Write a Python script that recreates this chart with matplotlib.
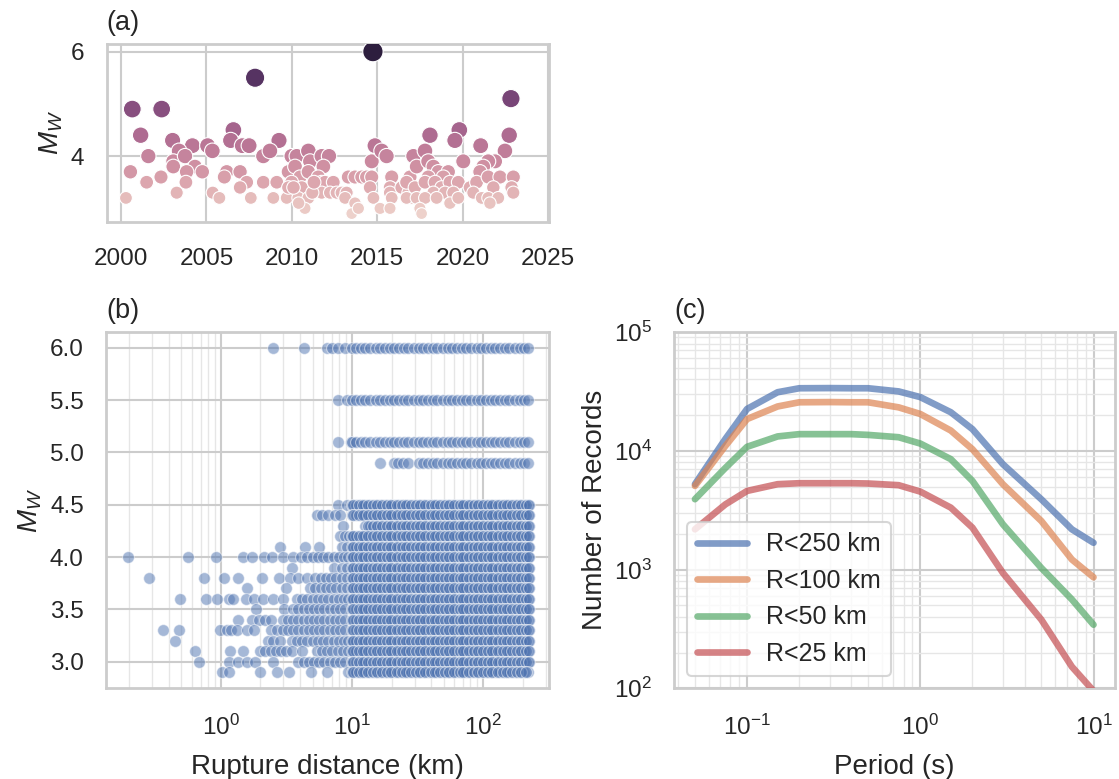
import numpy as np
import matplotlib
matplotlib.use("Agg")
import matplotlib.pyplot as plt
import matplotlib.ticker as mticker
import seaborn as sns

# ---------------- data: panel (a) event year vs magnitude ----------------
ev_year = [
    2000.66, 2002.38, 2001.15, 2003.02, 2001.60, 2004.18, 2005.07, 2005.35, 2003.40, 2003.06,
    2003.75, 2003.06, 2004.33, 2003.84, 2004.76, 2000.55, 2001.50, 2002.34, 2003.80, 2003.26,
    2000.29, 2005.37, 2005.76, 2006.58, 2006.42, 2007.10, 2007.50, 2006.19, 2006.05, 2006.97,
    2007.36, 2006.97, 2007.60, 2008.33, 2008.33, 2007.85,
    2009.25, 2008.72, 2008.92, 2009.12, 2009.70, 2009.99, 2010.29, 2010.97, 2011.07, 2011.75,
    2012.18, 2011.85, 2009.80, 2010.19, 2010.48, 2010.97, 2011.55, 2009.99, 2009.80, 2010.58,
    2011.46, 2011.75, 2011.94, 2012.43, 2010.38, 2010.97, 2010.77, 2011.75, 2012.24, 2012.63,
    2012.92, 2013.21, 2013.12, 2013.31, 2013.70, 2014.10, 2014.38, 2014.68, 2014.68, 2014.87,
    2015.26, 2015.55, 2014.58, 2014.78, 2015.17, 2013.70, 2013.51, 2013.90, 2015.85, 2015.75,
    2015.75, 2015.85, 2015.75, 2016.43, 2016.92, 2017.12, 2016.83, 2017.02, 2014.75,
    2010.10, 2010.40, 2011.20, 2011.30,
    2022.83, 2018.09, 2019.81, 2019.55, 2021.06, 2022.73, 2022.48, 2017.80, 2017.31, 2017.99,
    2018.29, 2020.04, 2021.90, 2021.50, 2021.21, 2021.02, 2018.58, 2019.16, 2018.87, 2017.99,
    2016.72, 2017.21, 2017.80, 2018.39, 2018.77, 2019.26, 2019.75, 2018.29, 2018.97, 2019.46,
    2020.43, 2020.82, 2021.50, 2022.19, 2022.97, 2021.80, 2022.87, 2022.97, 2020.63, 2021.12,
    2021.50, 2022.09, 2016.72, 2017.31, 2017.80, 2018.48, 2019.26, 2019.75, 2021.60, 2017.50,
    2017.60,
]
ev_mw = [
    4.9, 4.9, 4.4, 4.3, 4.0, 4.2, 4.2, 4.1, 4.1, 3.9,
    4.0, 3.8, 3.8, 3.7, 3.7, 3.7, 3.5, 3.6, 3.5, 3.3,
    3.2, 3.3, 3.2, 4.5, 4.3, 4.2, 4.2, 3.7, 3.6, 3.7,
    3.5, 3.4, 3.2, 4.0, 3.5, 5.5,
    4.3, 4.1, 3.2, 3.5, 3.2, 4.0, 4.0, 4.1, 3.9, 4.0,
    4.0, 3.8, 3.7, 3.8, 3.6, 3.7, 3.6, 3.5, 3.4, 3.4,
    3.4, 3.5, 3.5, 3.5, 3.2, 3.2, 3.0, 3.3, 3.3, 3.3,
    3.3, 3.3, 3.2, 3.6, 3.6, 3.6, 3.6, 3.6, 3.9, 4.2,
    4.1, 4.0, 3.4, 3.2, 3.0, 3.1, 2.9, 3.0, 3.6, 3.4,
    3.3, 3.2, 3.0, 3.4, 3.6, 4.0, 3.3, 3.2, 6.0,
    3.4, 3.1, 3.3, 3.5,
    5.1, 4.4, 4.5, 4.3, 4.2, 4.4, 4.1, 4.1, 3.8, 3.9,
    3.8, 3.9, 3.9, 3.9, 3.8, 3.7, 3.7, 3.7, 3.6, 3.6,
    3.5, 3.4, 3.5, 3.5, 3.4, 3.5, 3.5, 3.3, 3.3, 3.3,
    3.4, 3.5, 3.6, 3.6, 3.6, 3.4, 3.4, 3.3, 3.3, 3.2,
    3.2, 3.2, 3.2, 3.2, 3.2, 3.2, 3.1, 3.2, 3.1, 3.0,
    2.9,
]

# ---------------- data: panel (b) records, log10 rupture distance per magnitude row ----------------
pb_mw = [6.0, 5.5, 5.1, 4.9, 4.5, 4.4, 4.3, 4.2, 4.1, 4.0, 3.9,
         3.8, 3.7, 3.6, 3.5, 3.4, 3.3, 3.2, 3.1, 3.0, 2.9]
pb_near = [
    [0.40, 0.63, 0.81, 0.85, 0.89, 0.95],
    [0.89, 0.96],
    [0.89, 0.99],
    [1.21, 1.32, 1.35, 1.39, 1.43],
    [0.89, 0.96],
    [0.73, 0.77, 0.82, 0.87, 0.91],
    [0.93],
    [0.91, 0.95, 0.98],
    [0.45, 0.64, 0.75, 0.92, 0.96],
    [-0.71, -0.25, -0.04, 0.17, 0.24, 0.33, 0.39, 0.47, 0.55, 0.61, 0.66, 0.70, 0.74, 0.78,
     0.82, 0.86, 0.90, 0.94, 0.97],
    [0.54, 0.86, 0.92, 0.96],
    [-0.55, -0.13, 0.02, 0.13, 0.31, 0.44, 0.53, 0.59, 0.66, 0.72, 0.76, 0.80, 0.84, 0.88,
     0.92, 0.96],
    [0.20, 0.50, 0.68, 0.72, 0.76, 0.80, 0.84, 0.88, 0.92, 0.96],
    [-0.31, -0.11, -0.03, 0.06, 0.09, 0.19, 0.25, 0.32, 0.40, 0.47, 0.58, 0.62, 0.66, 0.70,
     0.74, 0.78, 0.82, 0.86, 0.90, 0.94, 0.97],
    [0.27, 0.48, 0.55, 0.59, 0.63, 0.67, 0.71, 0.75, 0.79, 0.83, 0.87, 0.91, 0.95],
    [0.13, 0.24, 0.29, 0.34, 0.38, 0.47, 0.51, 0.55, 0.59, 0.63, 0.67, 0.71, 0.75, 0.79,
     0.83, 0.87, 0.91, 0.95],
    [-0.44, -0.32, -0.01, 0.05, 0.08, 0.12, 0.20, 0.25, 0.38, 0.43, 0.47, 0.51, 0.55, 0.59,
     0.63, 0.67, 0.71, 0.75, 0.79, 0.83, 0.87, 0.91, 0.95],
    [-0.35, 0.36, 0.40, 0.45, 0.54, 0.58, 0.62, 0.66, 0.70, 0.74, 0.78, 0.82, 0.86, 0.90,
     0.94, 0.97],
    [-0.20, 0.07, 0.17, 0.30, 0.34, 0.38, 0.42, 0.46, 0.50, 0.54, 0.62, 0.73, 0.77, 0.81,
     0.85, 0.89, 0.93, 0.97],
    [-0.17, 0.06, 0.13, 0.20, 0.26, 0.40, 0.59, 0.63, 0.67, 0.71, 0.75, 0.79, 0.83, 0.87,
     0.91, 0.95],
    [0.01, 0.06, 0.30, 0.43, 0.52, 0.69, 0.81, 0.97],
]
pb_band_from = [1.00, 1.00, 1.00, 1.48, 1.00, 1.00, 1.09, 1.00, 1.00, 1.00, 1.00,
                1.00, 1.00, 1.00, 1.00, 1.00, 1.00, 1.00, 1.00, 1.00, 1.00]
pb_band_to = [2.35] * 20 + [2.34]
pb_band_dense = [False, False, False, False, True, True, True, True, True, True, True,
                 True, True, True, True, True, True, True, True, True, True]
band_a = [1.00, 1.03, 1.07, 1.10, 1.14, 1.18, 1.21, 1.25, 1.29, 1.32, 1.36, 1.40, 1.43,
          1.47, 1.51, 1.54, 1.58, 1.62, 1.65, 1.69, 1.73, 1.76, 1.80, 1.84, 1.87, 1.91,
          1.95, 1.98, 2.02, 2.06, 2.09, 2.13, 2.17, 2.20, 2.24, 2.28, 2.31, 2.34]
band_b = [1.01, 1.05, 1.08, 1.12, 1.16, 1.19, 1.23, 1.27, 1.30, 1.34, 1.38, 1.41, 1.45,
          1.49, 1.52, 1.56, 1.60, 1.63, 1.67, 1.71, 1.74, 1.78, 1.82, 1.85, 1.89, 1.93,
          1.96, 2.00, 2.04, 2.07, 2.11, 2.15, 2.18, 2.22, 2.26, 2.29, 2.33, 2.35]

# ---------------- data: panel (c) number of records vs period ----------------
periods = [0.05, 0.075, 0.1, 0.15, 0.2, 0.3, 0.4, 0.5, 0.75, 1.0, 1.5, 2.0, 3.0, 5.0, 7.5, 10.0]
n_r250 = [5230, 12600, 22500, 31100, 33600, 33700, 33600, 33600, 31600, 28300, 21100, 15200,
          7700, 3900, 2180, 1680]
n_r100 = [5060, 11000, 18500, 23600, 25600, 25700, 25600, 25600, 23200, 20400, 14800, 10300,
          5220, 2560, 1215, 860]
n_r50 = [3910, 7180, 10800, 13200, 13800, 13800, 13800, 13600, 13000, 11500, 8500, 5570,
         2400, 1030, 560, 343]
n_r25 = [2180, 3540, 4590, 5230, 5330, 5330, 5330, 5300, 5130, 4530, 3320, 2250,
         935, 378, 152, 95]
series_labels = ["R<250 km", "R<100 km", "R<50 km", "R<25 km"]

# ---------------- style ----------------
sns.set_theme(style="whitegrid", context="talk")
plt.rcParams["font.family"] = ["Liberation Sans", "DejaVu Sans"]
plt.rcParams["mathtext.fontset"] = "custom"
plt.rcParams["mathtext.rm"] = "Liberation Sans"
plt.rcParams["mathtext.it"] = "Liberation Sans:italic"
plt.rcParams["mathtext.bf"] = "Liberation Sans:bold"

TICK_FS = 17.5
LABEL_FS = 20
TITLE_FS = 19.5
LEGEND_FS = 18
W, H = 1119, 779


def rect(left, top, right, bottom):
    return [left / W, 1 - bottom / H, (right - left) / W, (bottom - top) / H]


def style_axes(ax):
    ax.tick_params(axis="both", which="both", length=0, labelsize=TICK_FS,
                   labelcolor="#262626")
    ax.tick_params(axis="x", which="both", pad=19)
    ax.tick_params(axis="y", which="both", pad=16)
    for sp in ax.spines.values():
        sp.set_color("#cccccc")
        sp.set_linewidth(2.0)
    ax.grid(True, which="major", color="#cccccc", linewidth=1.5)


fig = plt.figure(figsize=(W / 100, H / 100), dpi=100)
ax_a = fig.add_axes(rect(106.5, 43.5, 549, 221.7))
ax_b = fig.add_axes(rect(106, 331.7, 549, 688.3))
ax_c = fig.add_axes(rect(674, 332, 1115, 688.3))

# ---------------- panel (a) ----------------
sns.scatterplot(x=ev_year, y=ev_mw, hue=ev_mw, size=ev_mw, sizes=(72, 215),
                legend=False, ax=ax_a, edgecolor="white", linewidth=0.8, zorder=3)
ax_a.set_xlim(1999.15, 2025.06)
ax_a.set_ylim(2.745, 6.155)
ax_a.xaxis.set_major_locator(mticker.MultipleLocator(5))
ax_a.yaxis.set_major_locator(mticker.MultipleLocator(2))
ax_a.set_ylabel("$M_W$", fontsize=LABEL_FS)
ax_a.set_title("(a)", loc="left", fontsize=TITLE_FS, pad=10)
style_axes(ax_a)

# ---------------- panel (b) ----------------
rb_x, rb_y = [], []
for mw, near, b0, b1, dense in zip(pb_mw, pb_near, pb_band_from, pb_band_to, pb_band_dense):
    vals = list(near) + [v for v in band_a if b0 <= v <= b1]
    if dense:
        vals += [v for v in band_b if b0 <= v <= b1]
    rb_x += [10 ** v for v in vals]
    rb_y += [mw] * len(vals)

ax_b.set_xscale("log")
sns.scatterplot(x=rb_x, y=rb_y, alpha=0.5, s=72, color="#4C72B0", edgecolor="white",
                linewidth=0.8, ax=ax_b, zorder=3)
ax_b.set_xlim(10 ** -0.876, 10 ** 2.502)
ax_b.set_ylim(2.745, 6.155)
ax_b.yaxis.set_major_locator(mticker.MultipleLocator(0.5))
ax_b.yaxis.set_major_formatter(mticker.FormatStrFormatter("%.1f"))
ax_b.set_xlabel("Rupture distance (km)", fontsize=LABEL_FS, labelpad=10)
ax_b.set_ylabel("$M_W$", fontsize=LABEL_FS)
ax_b.set_title("(b)", loc="left", fontsize=TITLE_FS, pad=10)
style_axes(ax_b)
ax_b.xaxis.grid(True, which="minor", color="#e6e6e6", linewidth=1.0)

# ---------------- panel (c) ----------------
palette = sns.color_palette("deep")
for vals, lab, col in zip([n_r250, n_r100, n_r50, n_r25], series_labels, palette[:4]):
    ax_c.plot(periods, vals, color=col, alpha=0.7, linewidth=4.8, label=lab,
              solid_capstyle="round", zorder=3)
ax_c.set_xscale("log")
ax_c.set_yscale("log")
ax_c.set_xlim(10 ** -1.422, 10 ** 1.124)
ax_c.set_ylim(100, 1e5)
ax_c.xaxis.set_minor_locator(mticker.LogLocator(base=10, subs=np.arange(2, 10)))
ax_c.yaxis.set_minor_locator(mticker.LogLocator(base=10, subs=np.arange(2, 10)))
ax_c.xaxis.set_minor_formatter(mticker.NullFormatter())
ax_c.yaxis.set_minor_formatter(mticker.NullFormatter())
ax_c.set_xlabel("Period (s)", fontsize=LABEL_FS, labelpad=10)
ax_c.set_ylabel("Number of Records", fontsize=LABEL_FS)
ax_c.set_title("(c)", loc="left", fontsize=TITLE_FS, pad=10)
style_axes(ax_c)
ax_c.grid(True, which="minor", color="#e6e6e6", linewidth=1.0)
leg = ax_c.legend(loc="lower left", fontsize=LEGEND_FS, framealpha=0.8)
leg.get_frame().set_edgecolor("#cccccc")

fig.savefig("out.png", dpi=100)
